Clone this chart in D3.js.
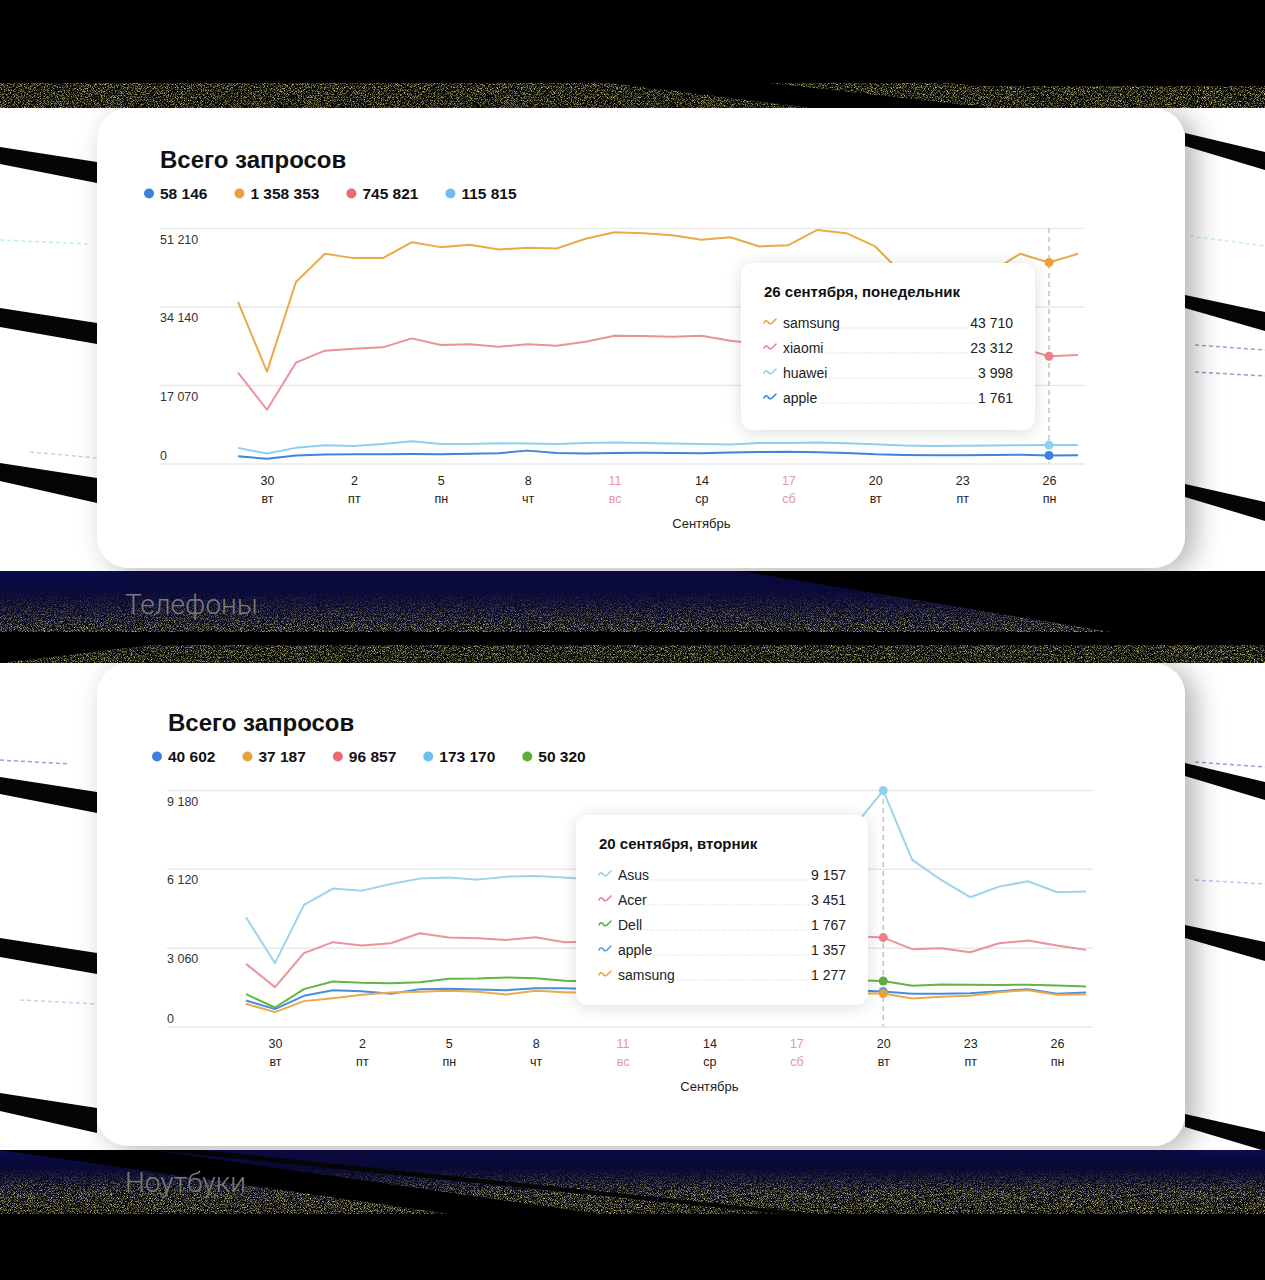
<!DOCTYPE html>
<html>
<head>
<meta charset="utf-8">
<script src="https://cdn.jsdelivr.net/npm/d3@7"></script>
<style>
  body { margin: 0; background: #000; }
  svg { display: block; font-family: "Liberation Sans", Arial, sans-serif; }
</style>
</head>
<body>
<script>
// ---- data ----
const startDay = new Date(2022, 7, 29);
const dates = d3.timeDay.range(startDay, new Date(2022, 8, 28)); // 29 авг .. 27 сен

const tickDates = [new Date(2022, 7, 30), new Date(2022, 8, 2), new Date(2022, 8, 5), new Date(2022, 8, 8),
  new Date(2022, 8, 11), new Date(2022, 8, 14), new Date(2022, 8, 17), new Date(2022, 8, 20),
  new Date(2022, 8, 23), new Date(2022, 8, 26)];
const tickDays = ["30", "2", "5", "8", "11", "14", "17", "20", "23", "26"];
const tickWeekdays = ["вт", "пт", "пн", "чт", "вс", "ср", "сб", "вт", "пт", "пн"];

// телефоны
const phonesYTicks = [0, 17070, 34140, 51210];
const phonesTotals = [58146, 1358353, 745821, 115815];
const phonesSamsung = [35140, 19980, 39470, 45600, 44660, 44660, 48130, 47050, 47560, 46550, 46920, 46760, 48860, 50290, 50080,
  49640, 48650, 49210, 47200, 47480, 50800, 50080, 47200, 40800, 41000, 41300, 41650, 45600, 43710, 45600];
const phonesXiaomi = [19770, 11690, 21930, 24530, 24960, 25260, 27210, 25760, 25910, 25400, 25910, 25620, 26480, 27780, 27710,
  27560, 27780, 26700, 26000, 25800, 26500, 26200, 25000, 23500, 23200, 23000, 23400, 25200, 23312, 23600];
const phonesHuawei = [3400, 2160, 3400, 3960, 3820, 4260, 4830, 4260, 4260, 4400, 4330, 4260, 4470, 4540, 4470,
  4330, 4260, 4110, 4470, 4470, 4540, 4400, 4200, 3900, 3800, 3850, 3900, 3950, 3998, 4000];
const phonesApple = [1590, 1010, 1730, 1950, 2000, 2000, 2050, 2000, 2100, 2250, 2800, 2300, 2150, 2300, 2350,
  2300, 2250, 2400, 2500, 2550, 2450, 2300, 2000, 1850, 1800, 1800, 1850, 1900, 1761, 1800];

// ноутбуки
const laptopsYTicks = [0, 3060, 6120, 9180];
const laptopsTotals = [40602, 37187, 96857, 173170, 50320];
const laptopsAsus = [4243, 2459, 4720, 5352, 5274, 5534, 5740, 5779, 5701, 5817, 5843, 5779, 5700, 5750, 5800,
  5650, 5700, 5600, 5750, 5900, 6300, 7780, 9157, 6465, 5689, 5018, 5430, 5638, 5212, 5236];
const laptopsAcer = [2431, 1528, 2846, 3273, 3141, 3234, 3622, 3451, 3428, 3362, 3467, 3273, 3300, 3400, 3350,
  3300, 3250, 3350, 3400, 3450, 3500, 3500, 3451, 3001, 3040, 2885, 3234, 3335, 3141, 2974];
const laptopsDell = [1256, 737, 1450, 1745, 1694, 1680, 1720, 1850, 1860, 1900, 1875, 1772, 1750, 1800, 1780,
  1760, 1750, 1780, 1800, 1790, 1780, 1800, 1767, 1578, 1630, 1620, 1610, 1620, 1590, 1551];
const laptopsApple = [1008, 674, 1190, 1411, 1372, 1268, 1450, 1463, 1437, 1411, 1489, 1489, 1450, 1420, 1400,
  1430, 1450, 1420, 1400, 1380, 1390, 1400, 1357, 1268, 1268, 1294, 1372, 1450, 1268, 1320];
const laptopsSamsung = [880, 558, 985, 1101, 1230, 1320, 1346, 1385, 1346, 1242, 1385, 1333, 1300, 1320, 1300,
  1280, 1300, 1310, 1290, 1280, 1270, 1290, 1277, 1087, 1152, 1190, 1333, 1411, 1230, 1256];

const W = 1265, H = 1280;
const fmt = d3.formatLocale({ decimal: ",", thousands: " ", grouping: [3], currency: ["", ""] }).format(",d");

const svg = d3.select("body").append("svg")
  .attr("width", W)
  .attr("height", H);

const defs = svg.append("defs");

defs.append("filter").attr("id", "noise").attr("x", 0).attr("y", 0).attr("width", 1).attr("height", 1)
  .call(f => {
    f.append("feTurbulence").attr("type", "fractalNoise").attr("baseFrequency", 1.3)
      .attr("numOctaves", 1).attr("seed", 7);
    f.append("feColorMatrix").attr("type", "matrix")
      .attr("values", "0 0 0 0 0.62  0 0 0 0 0.60  0 0 0 0 0.18  3.2 0 0 0 -1.45");
  });

defs.append("filter").attr("id", "cardShadow").attr("x", -0.1).attr("y", -0.1).attr("width", 1.25).attr("height", 1.25)
  .append("feDropShadow").attr("dx", 10).attr("dy", 4).attr("stdDeviation", 14)
  .attr("flood-color", "#000").attr("flood-opacity", 0.3);

defs.append("filter").attr("id", "tipShadow").attr("x", -0.2).attr("y", -0.2).attr("width", 1.4).attr("height", 1.4)
  .append("feDropShadow").attr("dx", 0).attr("dy", 2).attr("stdDeviation", 8)
  .attr("flood-color", "#000").attr("flood-opacity", 0.14);

const navy = defs.append("linearGradient").attr("id", "navy").attr("x1", 0).attr("y1", 0).attr("x2", 0).attr("y2", 1);
navy.append("stop").attr("offset", 0).attr("stop-color", "#0c0c4c");
navy.append("stop").attr("offset", 1).attr("stop-color", "#000");

const fade = defs.append("linearGradient").attr("id", "fade").attr("x1", 0).attr("y1", 0).attr("x2", 0).attr("y2", 1);
fade.append("stop").attr("offset", 0).attr("stop-color", "#000");
fade.append("stop").attr("offset", 0.55).attr("stop-color", "#fff");
fade.append("stop").attr("offset", 1).attr("stop-color", "#fff");
defs.append("mask").attr("id", "fadeMask").attr("maskContentUnits", "objectBoundingBox")
  .append("rect").attr("width", 1).attr("height", 1).attr("fill", "url(#fade)");

// ---- background ----
const bg = svg.append("g");
bg.append("rect").attr("width", W).attr("height", H).attr("fill", "#000");

function noiseBand(y0, y1, masked) {
  bg.append("rect").attr("x", 0).attr("y", y0).attr("width", W).attr("height", y1 - y0)
    .attr("filter", "url(#noise)").attr("mask", masked ? "url(#fadeMask)" : null);
}
function poly(pts, fill) {
  bg.append("polygon").attr("points", pts.map(p => p.join(",")).join(" ")).attr("fill", fill);
}

// верхняя полоса
noiseBand(83, 109, false);
poly([[610, 83], [770, 83], [1000, 109], [820, 109]], "#000");
poly([[950, 83], [1265, 83], [1265, 86], [980, 86]], "#000");

// белые подложки за карточками
bg.append("rect").attr("x", 0).attr("y", 108).attr("width", W).attr("height", 464).attr("fill", "#fff");
bg.append("rect").attr("x", 0).attr("y", 662).attr("width", W).attr("height", 489).attr("fill", "#fff");

// чёрные диагонали по бокам
[0, 630].forEach(off => {
  poly([[0, 147 + off], [97, 162 + off], [97, 183 + off], [0, 164 + off]], "#050505");
  poly([[0, 308 + off], [97, 323 + off], [97, 344 + off], [0, 327 + off]], "#050505");
  poly([[0, 463 + off], [97, 478 + off], [97, 503 + off], [0, 481 + off]], "#050505");
  poly([[1185, 133 + off], [1265, 152 + off], [1265, 170 + off], [1185, 146 + off]], "#050505");
  poly([[1185, 295 + off], [1265, 312 + off], [1265, 331 + off], [1185, 308 + off]], "#050505");
  poly([[1185, 484 + off], [1265, 502 + off], [1265, 521 + off], [1185, 497 + off]], "#050505");
});
// цветные штрихи
[[0, 240, 90, 244, "#7fdbe8"], [1190, 236, 1265, 246, "#8fdde8"], [30, 452, 97, 458, "#b98cf0"],
 [1195, 345, 1265, 350, "#3c3cb0"], [1195, 372, 1265, 376, "#2f2fa0"], [20, 1000, 97, 1004, "#b98cf0"],
 [1195, 762, 1265, 767, "#3c3cb0"], [1195, 880, 1265, 884, "#8d7ff0"], [0, 760, 70, 764, "#3c3cb0"]]
  .forEach(([x1, y1, x2, y2, c]) => bg.append("line").attr("x1", x1).attr("y1", y1).attr("x2", x2).attr("y2", y2)
    .attr("stroke", c).attr("stroke-width", 1.5).attr("stroke-dasharray", "4,3").attr("opacity", 0.5));

// средняя полоса
bg.append("rect").attr("x", 0).attr("y", 571).attr("width", W).attr("height", 92).attr("fill", "url(#navy)");
noiseBand(590, 663, true);
poly([[740, 571], [1265, 571], [1265, 640], [1160, 640]], "#000");
poly([[0, 632], [1265, 632], [1265, 645], [0, 645]], "#000");
poly([[0, 645], [150, 645], [0, 663]], "#000");

// нижняя полоса
bg.append("rect").attr("x", 0).attr("y", 1150).attr("width", W).attr("height", 66).attr("fill", "url(#navy)");
noiseBand(1168, 1214, true);
poly([[0, 1150], [150, 1150], [600, 1214], [450, 1214]], "#000");
poly([[150, 1150], [200, 1150], [820, 1214], [780, 1214]], "#050505");
bg.append("rect").attr("x", 0).attr("y", 1214).attr("width", W).attr("height", 66).attr("fill", "#000");

// подписи разделов
svg.append("text").attr("x", 125).attr("y", 614).attr("fill", "#7a7a7a")
  .style("font-family", "Roboto, sans-serif").style("font-weight", 300).style("font-size", "28px").text("Телефоны");
svg.append("text").attr("x", 125).attr("y", 1192).attr("fill", "#7a7a7a")
  .style("font-family", "Roboto, sans-serif").style("font-weight", 300).style("font-size", "28px").text("Ноутбуки");

// ---- charts ----
function drawChart(cfg) {
  const g = svg.append("g");

  g.append("rect")
    .attr("x", cfg.card[0]).attr("y", cfg.card[1]).attr("width", cfg.card[2]).attr("height", cfg.card[3])
    .attr("rx", 32).attr("fill", "#fff").attr("filter", "url(#cardShadow)");

  g.append("text").attr("x", cfg.titleX).attr("y", cfg.titleY)
    .style("font-size", "24px").style("font-weight", 700).attr("fill", "#111").text("Всего запросов");

  // легенда
  let lx = cfg.legendX;
  cfg.totals.forEach((t, i) => {
    g.append("circle").attr("cx", lx).attr("cy", cfg.legendY - 5.5).attr("r", 5).attr("fill", cfg.legendColors[i]);
    const tx = g.append("text").attr("x", lx + 11).attr("y", cfg.legendY)
      .style("font-size", "15.5px").style("font-weight", 700).attr("fill", "#111").text(fmt(t));
    lx += 11 + tx.node().getComputedTextLength() + 32;
  });

  const x = d3.scaleTime().domain(d3.extent(dates)).range(cfg.xRange);
  const y = d3.scaleLinear().domain([0, d3.max(cfg.yTicks)]).range(cfg.yRange);

  // сетка + подписи оси Y
  const yAxis = g.append("g").attr("transform", `translate(${cfg.gridX[0]},0)`)
    .call(d3.axisRight(y).tickValues(cfg.yTicks).tickSize(cfg.gridX[1] - cfg.gridX[0]).tickFormat(fmt));
  yAxis.select(".domain").remove();
  yAxis.selectAll(".tick line").attr("stroke", "#e9e9e9").attr("stroke-width", 1.5);
  yAxis.selectAll(".tick text").attr("x", 0).attr("dy", d => d === 0 ? -4 : 15).attr("text-anchor", "start")
    .attr("fill", "#333").style("font-size", "12.5px").style("font-family", "Liberation Sans, Arial, sans-serif");

  // ось X
  const xAxis = g.append("g").attr("transform", `translate(0,${cfg.yRange[0]})`)
    .call(d3.axisBottom(x).tickValues(tickDates).tickSize(0).tickFormat((d, i) => tickDays[i]));
  xAxis.select(".domain").remove();
  xAxis.selectAll(".tick text").each(function (d, i) {
    const weekend = tickWeekdays[i] === "сб" || tickWeekdays[i] === "вс";
    const t = d3.select(this).attr("y", 21).attr("dy", 0)
      .attr("fill", weekend ? "#e8959b" : "#222")
      .style("font-size", "12.5px").style("font-family", "Liberation Sans, Arial, sans-serif");
    t.append("tspan").attr("x", 0).attr("dy", 18).text(tickWeekdays[i]);
  });
  g.append("text").attr("x", x(tickDates[5])).attr("y", cfg.yRange[0] + 64)
    .attr("text-anchor", "middle").attr("fill", "#222").style("font-size", "13px").text("Сентябрь");

  // линии
  const line = d3.line().x((d, i) => x(dates[i])).y(d => y(d));
  cfg.series.forEach(s => {
    g.append("path").datum(s.values).attr("d", line)
      .attr("fill", "none").attr("stroke", s.color).attr("stroke-width", 2)
      .attr("stroke-linejoin", "round");
  });

  // маркер наведения
  const hx = x(dates[cfg.hover]);
  g.append("line").attr("x1", hx).attr("x2", hx).attr("y1", cfg.yRange[1]).attr("y2", cfg.yRange[0])
    .attr("stroke", "#c4c4c4").attr("stroke-width", 1.5).attr("stroke-dasharray", "5,4");
  cfg.series.forEach(s => {
    g.append("circle").attr("cx", hx).attr("cy", y(s.values[cfg.hover])).attr("r", 4.5).attr("fill", s.dot);
  });

  // подсказка
  const [tx0, ty0, tw, th] = cfg.tip;
  const tip = g.append("g");
  tip.append("rect").attr("x", tx0).attr("y", ty0).attr("width", tw).attr("height", th)
    .attr("rx", 12).attr("fill", "#fff").attr("filter", "url(#tipShadow)");
  tip.append("text").attr("x", tx0 + 23).attr("y", ty0 + 34)
    .style("font-size", "15px").style("font-weight", 700).attr("fill", "#111").text(cfg.tipTitle);
  const right = tx0 + tw - 22;
  cfg.tipOrder.forEach((k, r) => {
    const s = cfg.series[k];
    const by = ty0 + 65 + r * 25;
    tip.append("path")
      .attr("d", `M${tx0 + 23},${by - 5} q2,-4 4,-1 t4,1 t4,-4`)
      .attr("fill", "none").attr("stroke", s.dot).attr("stroke-width", 1.6).attr("stroke-linecap", "round");
    const nm = tip.append("text").attr("x", tx0 + 42).attr("y", by)
      .style("font-size", "14px").attr("fill", "#222").text(s.name);
    const val = tip.append("text").attr("x", right).attr("y", by).attr("text-anchor", "end")
      .style("font-size", "14px").attr("fill", "#222").text(fmt(s.values[cfg.hover]));
    const nEnd = tx0 + 42 + nm.node().getComputedTextLength() + 2;
    const vStart = right - val.node().getComputedTextLength() - 2;
    tip.append("line").attr("x1", nEnd).attr("x2", vStart).attr("y1", by).attr("y2", by)
      .attr("stroke", "#c8c8c8").attr("stroke-width", 1).attr("stroke-dasharray", "1,2");
  });
}

drawChart({
  card: [97, 108, 1088, 460],
  titleX: 160, titleY: 168,
  legendX: 149, legendY: 199,
  totals: phonesTotals,
  legendColors: ["#3b82e0", "#e9a23b", "#ec6a6d", "#6dbdf0"],
  yTicks: phonesYTicks,
  xRange: [238, 1078], yRange: [463.5, 228],
  gridX: [160, 1085],
  series: [
    { name: "samsung", values: phonesSamsung, color: "#eaaa48", dot: "#e9a23b" },
    { name: "xiaomi", values: phonesXiaomi, color: "#eb9199", dot: "#ec8189" },
    { name: "huawei", values: phonesHuawei, color: "#8ecff0", dot: "#8ecff0" },
    { name: "apple", values: phonesApple, color: "#3f86db", dot: "#3b82e0" }
  ],
  hover: 28,
  tip: [741, 263, 294, 167],
  tipTitle: "26 сентября, понедельник",
  tipOrder: [0, 1, 2, 3]
});

drawChart({
  card: [97, 663, 1088, 483],
  titleX: 168, titleY: 731,
  legendX: 157, legendY: 762,
  totals: laptopsTotals,
  legendColors: ["#3b82e0", "#e9a23b", "#ec6a6d", "#6dbdf0", "#5aae3c"],
  yTicks: laptopsYTicks,
  xRange: [246, 1086], yRange: [1026.5, 790],
  gridX: [167, 1093],
  series: [
    { name: "Asus", values: laptopsAsus, color: "#9ed3ed", dot: "#94cff0" },
    { name: "Acer", values: laptopsAcer, color: "#eb929a", dot: "#ec8189" },
    { name: "Dell", values: laptopsDell, color: "#63b543", dot: "#5aae3c" },
    { name: "apple", values: laptopsApple, color: "#4a8ddb", dot: "#5b9ae0" },
    { name: "samsung", values: laptopsSamsung, color: "#ebaa4c", dot: "#e9a23b" }
  ],
  hover: 22,
  tip: [576, 815, 292, 190],
  tipTitle: "20 сентября, вторник",
  tipOrder: [0, 1, 2, 3, 4]
});
</script>
</body>
</html>
